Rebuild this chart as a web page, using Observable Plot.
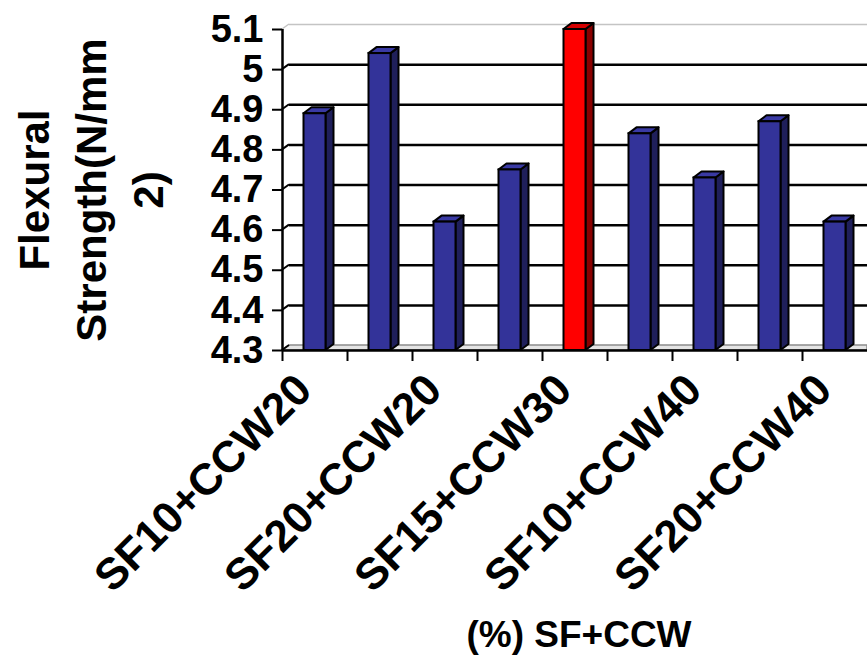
<!DOCTYPE html>
<html>
<head>
<meta charset="utf-8">
<script src="https://cdn.jsdelivr.net/npm/d3@7"></script>
<script src="https://cdn.jsdelivr.net/npm/@observablehq/plot@0.6"></script>
<style>
  body { margin: 0; background: #fff; }
</style>
</head>
<body>
<div id="chart"></div>
<script>
// ---- data ----
const categories = ["SF10+CCW20", "SF15+CCW20", "SF20+CCW20", "SF10+CCW30", "SF15+CCW30", "SF20+CCW30", "SF10+CCW40", "SF15+CCW40", "SF20+CCW40"];
const strengths = [4.89, 5.04, 4.62, 4.75, 5.10, 4.84, 4.73, 4.87, 4.62];
const labelledCategories = ["SF10+CCW20", "SF20+CCW20", "SF15+CCW30", "SF10+CCW40", "SF20+CCW40"];
const yTicks = [4.3, 4.4, 4.5, 4.6, 4.7, 4.8, 4.9, 5.0, 5.1];
const yTitle = "Flexural\nStrength(N/mm\n2)";
const xTitle = "(%) SF+CCW";

// ---- layout / style ----
const width = 867, height = 665;
const marginLeft = 282, marginRight = 0, marginTop = 29, marginBottom = 315;
const step = (width - marginLeft - marginRight) / categories.length;
const barInset = 21.5;
const depthX = 8, depthY = 6;
const wallX = 7, wallY = 5;
const labelStretch = [1.12, 0.88];
const yMin = yTicks[0], yMax = yTicks[yTicks.length - 1];
const maxStrength = d3.max(strengths);
const table = categories.map((c, i) => ({category: c, strength: strengths[i]}));
const font = "'Liberation Sans', Arial, sans-serif";

function floorAndWall(index, scales, values, dimensions) {
  const {y} = scales;
  const x0 = dimensions.marginLeft, x1 = dimensions.width - dimensions.marginRight;
  const y0 = y(yMin);
  const g = d3.create("svg:g");
  g.append("polygon")
    .attr("points", [[x0, y0], [x0 + wallX, y0 - wallY], [x1, y0 - wallY], [x1, y0]].join(" "))
    .attr("fill", "#e4e4e4").attr("stroke", "#8c8c8c").attr("stroke-width", 1.5);
  yTicks.forEach(t => {
    g.append("line")
      .attr("x1", x0).attr("y1", y(t)).attr("x2", x0 + wallX).attr("y2", y(t) - wallY)
      .attr("stroke", t === yMax ? "#c4c4c4" : "black").attr("stroke-width", t === yMax ? 1.5 : 2);
  });
  return g.node();
}

function solidFaces(index, scales) {
  const {x, y} = scales;
  const bw = typeof x.bandwidth === "function" ? x.bandwidth() : step;
  const y0 = y(yMin);
  const g = d3.create("svg:g").attr("stroke", "black").attr("stroke-width", 2).attr("stroke-linejoin", "round");
  table.forEach(d => {
    const hot = d.strength === maxStrength;
    const xl = x(d.category) + barInset, xr = x(d.category) + bw - barInset, yt = y(d.strength);
    g.append("polygon")
      .attr("points", [[xr, yt], [xr + depthX, yt - depthY], [xr + depthX, y0 - depthY], [xr, y0]].join(" "))
      .attr("fill", hot ? "#8a0000" : "#1f1f5a");
    g.append("polygon")
      .attr("points", [[xl, yt], [xl + depthX, yt - depthY], [xr + depthX, yt - depthY], [xr, yt]].join(" "))
      .attr("fill", hot ? "#d40000" : "#3a3aa4");
  });
  return g.node();
}

const chart = Plot.plot({
  width, height, marginLeft, marginRight, marginTop, marginBottom,
  style: {fontFamily: font, background: "#fff", color: "black", overflow: "visible"},
  x: {domain: categories, padding: 0, round: false, axis: null},
  y: {domain: [yMin, yMax], axis: null},
  marks: [
    floorAndWall,
    Plot.ruleY(yTicks.slice(1, -1), {dy: -wallY, insetLeft: wallX, stroke: "black", strokeWidth: 2.5}),
    Plot.ruleY([yMax], {dy: -wallY, insetLeft: wallX, stroke: "#c4c4c4", strokeWidth: 1.5}),
    solidFaces,
    Plot.barY(table, {
      x: "category", y1: yMin, y2: "strength",
      fill: d => d.strength === maxStrength ? "#ff0000" : "#333399",
      stroke: "black", strokeWidth: 2, insetLeft: barInset, insetRight: barInset
    }),
    Plot.ruleY([yMin], {stroke: "black", strokeWidth: 2.5}),
    Plot.ruleX([categories[0]], {y1: yMin, y2: yMax, dx: -step / 2, stroke: "black", strokeWidth: 2.5}),
    Plot.axisY({
      ticks: yTicks, tickSize: 10, tickPadding: 9, strokeWidth: 2,
      tickFormat: d => String(+d.toFixed(1)),
      fontSize: 38, fontWeight: "bold", label: null
    }),
    Plot.axisX({
      ticks: categories, tickSize: 11, strokeWidth: 2, dx: -step / 2,
      tickFormat: () => "", label: null
    }),
    Plot.text(labelledCategories, {
      x: d => d, text: d => d, frameAnchor: "bottom", dy: 42, dx: -1,
      rotate: -45, textAnchor: "end", fontSize: 44, fontWeight: "bold", ariaLabel: "xlabels"
    }),
    Plot.text([yTitle], {
      text: d => d, frameAnchor: "left", dx: -195, rotate: -90,
      fontSize: 42, fontWeight: "bold", lineHeight: 1.36, textAnchor: "middle"
    }),
    Plot.text([xTitle], {
      text: d => d, frameAnchor: "bottom", dy: 296, dx: 4,
      fontSize: 37, fontWeight: "bold"
    })
  ]
});

// give the slanted category labels the stretched look of the original picture
d3.select(chart).selectAll('g[aria-label="xlabels"] text').each(function() {
  const t = this.getAttribute("transform") || "";
  const m = t.match(/^\s*translate\(([^)]*)\)(.*)$/);
  if (m) this.setAttribute("transform", `translate(${m[1]}) scale(${labelStretch[0]},${labelStretch[1]})${m[2]}`);
});

document.getElementById("chart").append(chart);
</script>
</body>
</html>
